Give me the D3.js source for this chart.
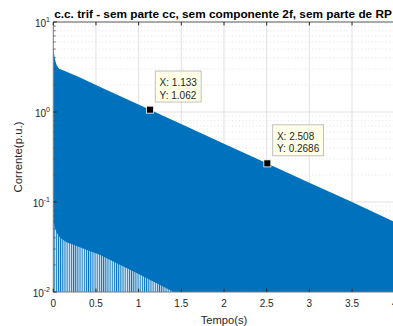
<!DOCTYPE html>
<html>
<head>
<meta charset="utf-8">
<script src="https://cdn.jsdelivr.net/npm/d3@7"></script>
<style>
  body { margin: 0; background: #fff; }
  svg { display: block; font-family: "Liberation Sans", Arial, sans-serif; }
</style>
</head>
<body>
<svg id="chart" width="393" height="326"></svg>
<script>
// upper envelope of the current (peaks)
const tUpper = [0, 0.01, 0.02, 0.04, 0.07, 0.1, 0.3, 0.6, 1.133, 1.6, 2.0, 2.508, 3.0, 3.5, 4.0];
const iUpper = [5.3, 4.4, 3.8, 3.3, 3.0, 2.95, 2.45, 1.8, 1.062, 0.665, 0.445, 0.2686, 0.164, 0.1, 0.06];

// where the dense wave stops being solid (the striped part is below it)
const tLower = [0, 0.02, 0.05, 0.08, 0.15, 0.55, 1.0, 1.42, 1.6];
const iLower = [0.066, 0.051, 0.044, 0.040, 0.036, 0.0258, 0.0158, 0.0099, 0.008];

// data tips
const tipX = [1.133, 2.508];
const tipY = [1.062, 0.2686];
const tipLabels = [['X: 1.133', 'Y: 1.062'], ['X: 2.508', 'Y: 0.2686']];

const xTicks = [0, 0.5, 1, 1.5, 2, 2.5, 3, 3.5, 4];
const xTickLabels = ['0', '0.5', '1', '1.5', '2', '2.5', '3', '3.5', '4'];
const yTicks = [0.01, 0.1, 1, 10];
const yExponents = ['-2', '-1', '0', '1'];

const svg = d3.select('#chart');
const pl = 53.3, pt = 22, pr = 394.7, pb = 292;

const x = d3.scaleLinear().domain([0, 4]).range([pl, pr]);
const y = d3.scaleLog().domain([0.01, 10]).range([pb, pt]);

const defs = svg.append('defs');
defs.append('clipPath').attr('id', 'plotclip')
  .append('rect')
  .attr('x', pl).attr('y', pt)
  .attr('width', pr - pl).attr('height', pb - pt);

const pat = defs.append('pattern')
  .attr('id', 'osc')
  .attr('patternUnits', 'userSpaceOnUse')
  .attr('width', 2.15).attr('height', 20);
pat.append('rect').attr('width', 2.15).attr('height', 20).attr('fill', '#d3e5f4');
pat.append('rect').attr('width', 0.95).attr('height', 20).attr('fill', '#0072BD');

// grid
const minor = [];
[0.01, 0.1, 1].forEach(d => { for (let k = 2; k <= 9; k++) minor.push(d * k); });

const grid = svg.append('g');
grid.selectAll('.mg').data(minor).enter().append('line')
  .attr('x1', pl).attr('x2', pr)
  .attr('y1', d => y(d)).attr('y2', d => y(d))
  .attr('stroke', '#d4d4d4').attr('stroke-width', 0.7)
  .attr('stroke-dasharray', '1,2.5');
grid.selectAll('.gy').data(yTicks.slice(1, 3)).enter().append('line')
  .attr('x1', pl).attr('x2', pr)
  .attr('y1', d => y(d)).attr('y2', d => y(d))
  .attr('stroke', '#e1e1e1').attr('stroke-width', 1);
grid.selectAll('.gx').data(xTicks.slice(1)).enter().append('line')
  .attr('x1', d => x(d)).attr('x2', d => x(d))
  .attr('y1', pt).attr('y2', pb)
  .attr('stroke', '#e1e1e1').attr('stroke-width', 1);

// signal
const plot = svg.append('g').attr('clip-path', 'url(#plotclip)');
const upperPts = tUpper.map((t, i) => [t, iUpper[i]]);
const lowerPts = tLower.map((t, i) => [t, iLower[i]]);

plot.append('path')
  .datum(upperPts)
  .attr('fill', '#0072BD')
  .attr('d', d3.area().x(d => x(d[0])).y0(pb + 2).y1(d => y(d[1])));

plot.append('path')
  .datum(lowerPts)
  .attr('fill', 'url(#osc)')
  .attr('d', d3.area().x(d => x(d[0])).y0(pb + 2).y1(d => y(d[1])));

// axes box
const axisColor = '#7a7a7a';
svg.append('line').attr('x1', pl).attr('x2', pr).attr('y1', pb).attr('y2', pb)
  .attr('stroke', axisColor).attr('stroke-width', 1);
svg.append('line').attr('x1', pl).attr('x2', pr).attr('y1', pt).attr('y2', pt)
  .attr('stroke', '#555').attr('stroke-width', 1);
svg.append('line').attr('x1', pl).attr('x2', pl).attr('y1', pt).attr('y2', pb)
  .attr('stroke', axisColor).attr('stroke-width', 1);

// ticks (inward)
svg.selectAll('.xtb').data(xTicks).enter().append('line')
  .attr('x1', d => x(d)).attr('x2', d => x(d))
  .attr('y1', pb).attr('y2', pb - 3.4)
  .attr('stroke', '#262626').attr('stroke-width', 1);
svg.selectAll('.xtt').data(xTicks).enter().append('line')
  .attr('x1', d => x(d)).attr('x2', d => x(d))
  .attr('y1', pt).attr('y2', pt + 3.4)
  .attr('stroke', '#262626').attr('stroke-width', 1);
svg.selectAll('.ytm').data(minor).enter().append('line')
  .attr('x1', pl).attr('x2', pl + 2.5)
  .attr('y1', d => y(d)).attr('y2', d => y(d))
  .attr('stroke', '#555').attr('stroke-width', 0.8);
svg.selectAll('.ytM').data(yTicks).enter().append('line')
  .attr('x1', pl).attr('x2', pl + 3.4)
  .attr('y1', d => y(d)).attr('y2', d => y(d))
  .attr('stroke', '#262626').attr('stroke-width', 1);

// tick labels
svg.selectAll('.xl').data(xTicks).enter().append('text')
  .attr('x', d => x(d)).attr('y', 307)
  .attr('text-anchor', 'middle')
  .attr('font-size', 10).attr('fill', '#262626')
  .text((d, i) => xTickLabels[i]);

const yl = svg.selectAll('.yl').data(yTicks).enter().append('text')
  .attr('x', 50).attr('y', d => y(d) + 4.5)
  .attr('text-anchor', 'end')
  .attr('font-size', 10).attr('fill', '#262626');
yl.append('tspan').text('10');
yl.append('tspan').attr('dy', -5).attr('font-size', 7).text((d, i) => yExponents[i]);

// labels
svg.append('text')
  .attr('x', (pl + pr) / 2 - 1).attr('y', 17.5)
  .attr('text-anchor', 'middle')
  .attr('font-size', 11.8).attr('font-weight', 'bold').attr('fill', '#000')
  .text('c.c. trif - sem parte cc, sem componente 2f, sem parte de RP');

svg.append('text')
  .attr('x', 224).attr('y', 324)
  .attr('text-anchor', 'middle')
  .attr('font-size', 11.2).attr('fill', '#262626')
  .text('Tempo(s)');

svg.append('text')
  .attr('transform', 'translate(21.5,157) rotate(-90)')
  .attr('text-anchor', 'middle')
  .attr('font-size', 11.4).attr('fill', '#262626')
  .text('Corrente(p.u.)');

// data tips
tipX.forEach((tx, i) => {
  const sx = x(tx), sy = y(tipY[i]);
  const g = svg.append('g');
  const box = g.append('rect')
    .attr('fill', '#ffffe8').attr('stroke', '#c0c0c0').attr('stroke-width', 1);
  const t1 = g.append('text').attr('x', sx + 9.6).attr('y', sy - 23.5)
    .attr('font-size', 10).attr('fill', '#262626').text(tipLabels[i][0]);
  const t2 = g.append('text').attr('x', sx + 9.6).attr('y', sy - 11)
    .attr('font-size', 10).attr('fill', '#262626').text(tipLabels[i][1]);
  const w = Math.max(t1.node().getComputedTextLength(), t2.node().getComputedTextLength());
  box.attr('x', sx + 5.3).attr('y', sy - 38.6)
    .attr('width', w + 8.6).attr('height', 31);
  g.append('rect')
    .attr('x', sx - 3.5).attr('y', sy - 3.5)
    .attr('width', 7).attr('height', 7)
    .attr('fill', '#000').attr('stroke', '#fff').attr('stroke-width', 0.8);
});
</script>
</body>
</html>
